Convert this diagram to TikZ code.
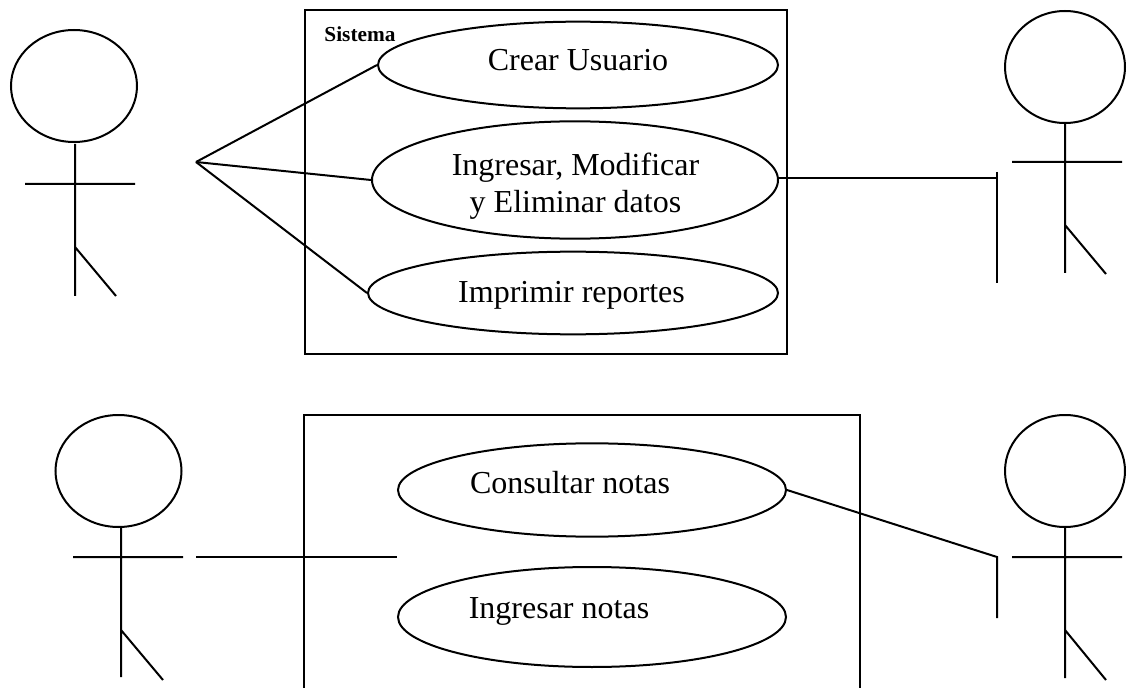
\documentclass[tikz,border=0pt]{standalone}
\usepackage{fontspec}
\setmainfont{Liberation Serif}
\usetikzlibrary{shapes.geometric}
\tikzset{
  ln/.style={line width=1.5pt,black},
  uc/.style={ellipse,draw=black,line width=1.5pt,inner sep=0pt},
  head/.style={ellipse,draw=black,line width=1.5pt,inner sep=0pt},
  txt/.style={font=\fontsize{24}{28}\selectfont,inner sep=0pt,anchor=base,text=black},
}
\begin{document}
\begin{tikzpicture}[x=0.75pt,y=-0.75pt]
\useasboundingbox (0,0) rectangle (1129,688);
\clip (0,0) rectangle (1129,688);
% system boxes
\node[draw=black,line width=1.5pt,minimum width=361.25pt,minimum height=257.25pt,inner sep=0pt,anchor=north west] (sys) at (304,9.5) {};
\coordinate (bxa) at (304,688);
\coordinate (bxb) at (304,415);
\coordinate (bxc) at (860,415);
\coordinate (bxd) at (860,688);
\draw[ln] (bxa) -- (bxb) -- (bxc) -- (bxd);
% use cases
\node[uc,minimum width=300pt,minimum height=65pt] (e1) at (578,65) {};
\node[uc,minimum width=304.5pt,minimum height=88pt] (e2) at (575,180) {};
\node[uc,minimum width=307.5pt,minimum height=62pt] (e3) at (573,293) {};
\node[uc,minimum width=291pt,minimum height=70pt] (e4) at (592,490) {};
\node[uc,minimum width=291pt,minimum height=75pt] (e5) at (592,617) {};
% labels
\node[font=\bfseries\fontsize{16}{19}\selectfont,inner sep=0pt,anchor=base] (tsis) at (360,42) {Sistema};
\node[txt] (t1) at (578,71) {Crear Usuario};
\node[txt] (t2a) at (575.5,176) {Ingresar, Modificar};
\node[txt] (t2b) at (575.5,213) {y Eliminar datos};
\node[txt] (t3) at (571.5,302) {Imprimir reportes};
\node[txt] (t4) at (570,493) {Consultar notas};
\node[txt] (t5) at (559,618) {Ingresar notas};
% actor top left
\node[head,minimum width=94.5pt,minimum height=84pt] (h1) at (74,86) {};
\coordinate (b1t) at (75,144); \coordinate (b1b) at (75,296); \coordinate (b1h) at (75,247);
\coordinate (a1l) at (25,184); \coordinate (a1r) at (135,184); \coordinate (l1) at (116,296);
\draw[ln] (b1t) -- (b1b) (a1l) -- (a1r) (b1h) -- (l1);
% actor top right
\node[head,minimum width=90pt,minimum height=84pt] (h2) at (1065,67) {};
\coordinate (b2t) at (1065,123); \coordinate (b2b) at (1065,273); \coordinate (b2h) at (1065,225);
\coordinate (a2l) at (1012,162); \coordinate (a2r) at (1122,162); \coordinate (l2) at (1106,274);
\draw[ln] (b2t) -- (b2b) (a2l) -- (a2r) (b2h) -- (l2);
% actor bottom left
\node[head,minimum width=94.5pt,minimum height=84pt] (h3) at (118.5,471) {};
\coordinate (b3t) at (121,527); \coordinate (b3b) at (121,677); \coordinate (b3h) at (121,630);
\coordinate (a3l) at (73,557); \coordinate (a3r) at (183,557); \coordinate (l3) at (163,680);
\draw[ln] (b3t) -- (b3b) (a3l) -- (a3r) (b3h) -- (l3);
% actor bottom right
\node[head,minimum width=90pt,minimum height=84pt] (h4) at (1065,471) {};
\coordinate (b4t) at (1065,527); \coordinate (b4b) at (1065,678); \coordinate (b4h) at (1065,630);
\coordinate (a4l) at (1012,557); \coordinate (a4r) at (1122,557); \coordinate (l4) at (1106,680);
\draw[ln] (b4t) -- (b4b) (a4l) -- (a4r) (b4h) -- (l4);
% connectors
\coordinate (o) at (196,162);
\draw[ln] (o) -- (e1.west);
\draw[ln] (o) -- (e2.west);
\draw[ln] (o) -- (e3.west);
\coordinate (barTop) at (997,172); \coordinate (barBot) at (997,283); \coordinate (barJoin) at (997,178);
\draw[ln] (barTop) -- (barBot);
\draw[ln] (barJoin -| e2.east) -- (barJoin);
\coordinate (lb) at (196,557);
\draw[ln] (lb) -- (lb -| e4.west);
\coordinate (barB1) at (997,557); \coordinate (barB2) at (997,618);
\draw[ln] (e4.east) -- (barB1) -- (barB2);
\end{tikzpicture}
\end{document}
